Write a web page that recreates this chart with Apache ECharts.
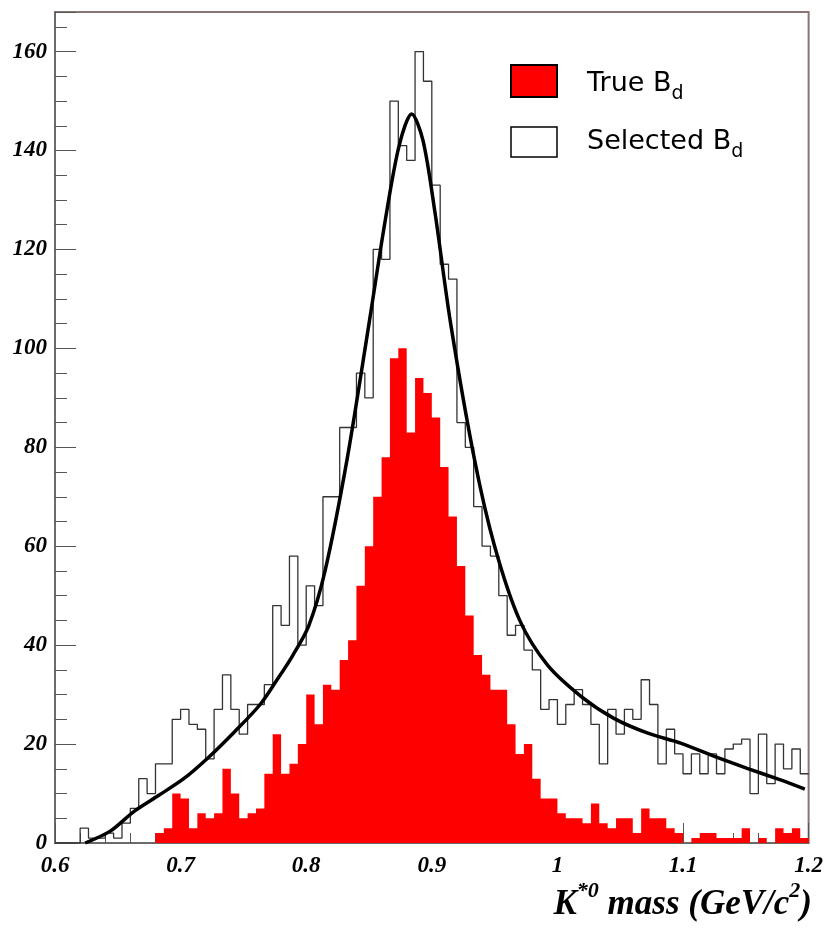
<!DOCTYPE html>
<html>
<head>
<meta charset="utf-8">
<title>K*0 mass</title>
<script src="https://cdn.jsdelivr.net/npm/echarts@6/dist/echarts.min.js"></script>
<style>
  html, body { margin: 0; padding: 0; background: #fff; }
  #main { width: 826px; height: 930px; }
</style>
</head>
<body>
<div id="main"></div>
<script>
// histogram binning
var binLow = 0.6;
var binHigh = 1.2;
var nBins = 90;

// True B_d (filled red)
var trueCounts = [
  0, 0, 0, 0, 0, 0, 0, 0, 0, 0,
  0, 0, 2, 3, 10, 9, 3, 6, 5, 6,
  15, 10, 5, 6, 7, 14, 22, 14, 16, 20,
  30, 24, 32, 31, 37, 41, 52, 60, 70, 78,
  98, 100, 83, 94, 91, 86, 76, 66, 56, 46,
  38, 34, 31, 31, 24, 18, 20, 13, 9, 9,
  6, 5, 5, 4, 8, 4, 3, 5, 5, 2,
  7, 5, 5, 3, 2, 0, 1, 2, 2, 1,
  1, 1, 3, 0, 1, 0, 3, 2, 3, 1
];

// Selected B_d (open outline)
var selectedCounts = [
  0, 0, 0, 3, 1, 1, 2, 1, 4, 7,
  13, 10, 16, 16, 25, 27, 24, 23, 17, 27,
  34, 27, 22, 28, 28, 32, 48, 44, 58, 40,
  52, 48, 70, 70, 84, 84, 95, 90, 120, 118,
  150, 141, 138, 160, 154, 133, 117, 114, 85, 80,
  68, 60, 58, 50, 42, 44, 39, 35, 27, 29,
  24, 28, 31, 28, 24, 16, 27, 22, 27, 25,
  33, 28, 16, 23, 18, 14, 18, 14, 18, 14,
  19, 20, 21, 10, 22, 12, 20, 15, 19, 14
];

// fitted curve
var fitX = [0.624, 0.644, 0.663, 0.683, 0.703, 0.723, 0.743, 0.763, 0.776, 0.789,
  0.802, 0.815, 0.8325, 0.85, 0.863, 0.874, 0.884, 0.893, 0.9025, 0.915,
  0.934, 0.95, 0.97, 0.992, 1.019, 1.045, 1.072, 1.098, 1.125, 1.151,
  1.177, 1.197];
var fitY = [0, 2.4, 6.4, 9.7, 13.1, 17.5, 22.5, 27.9, 32.7, 37.8,
  43.9, 55, 77.5, 105, 126, 141, 147.4, 142, 127.5, 105,
  77.5, 60, 45, 36, 29.6, 25.2, 22.2, 20.2, 17.5, 15.1,
  12.8, 10.9];

var xTicks = ['0.6', '0.7', '0.8', '0.9', '1', '1.1', '1.2'];
var yTicks = ['0', '20', '40', '60', '80', '100', '120', '140', '160'];

function stepData(counts) {
  var w = (binHigh - binLow) / nBins;
  var out = [];
  for (var i = 0; i < counts.length; i++) {
    out.push([binLow + i * w, counts[i]]);
  }
  out.push([binHigh, counts[counts.length - 1]]);
  return out;
}

var fitData = [];
for (var k = 0; k < fitX.length; k++) {
  fitData.push([fitX[k], fitY[k]]);
}

var labelFont = {
  fontFamily: 'Liberation Serif',
  fontStyle: 'italic',
  fontWeight: 'bold',
  fontSize: 23,
  color: '#000'
};

var myChart = echarts.init(document.getElementById('main'));
var option = {
  backgroundColor: '#fff',
  animation: false,
  grid: {
    left: 55,
    right: 14,
    top: 12,
    bottom: 87,
    show: true,
    borderColor: '#8a7575',
    borderWidth: 2,
    backgroundColor: 'transparent'
  },
  xAxis: {
    type: 'value',
    min: 0.6,
    max: 1.2,
    interval: 0.1,
    axisLine: { onZero: false, lineStyle: { color: '#666', width: 1.5 } },
    axisTick: { inside: true, length: 20, lineStyle: { color: '#555' } },
    minorTick: { show: true, splitNumber: 5, length: 10, lineStyle: { color: '#555' } },
    splitLine: { show: false },
    axisLabel: Object.assign({
      margin: 12,
      formatter: function (v) {
        var idx = Math.round((v - 0.6) / 0.1);
        return xTicks[idx] !== undefined ? xTicks[idx] : '';
      }
    }, labelFont)
  },
  yAxis: {
    type: 'value',
    min: 0,
    max: 168,
    interval: 20,
    axisLine: { show: true, lineStyle: { color: '#666', width: 1.5 } },
    axisTick: { inside: true, length: 21, lineStyle: { color: '#555' } },
    minorTick: { show: true, splitNumber: 4, length: 12, lineStyle: { color: '#555' } },
    splitLine: { show: false },
    axisLabel: Object.assign({
      margin: 8,
      showMaxLabel: false,
      formatter: function (v) {
        var idx = Math.round(v / 20);
        return (Math.abs(v - idx * 20) < 1e-6 && yTicks[idx] !== undefined) ? yTicks[idx] : '';
      }
    }, labelFont)
  },
  series: [
    {
      name: 'True Bd',
      type: 'line',
      step: 'end',
      data: stepData(trueCounts),
      symbol: 'none',
      lineStyle: { width: 0, color: '#ff0000' },
      areaStyle: { color: '#ff0000', opacity: 1 },
      z: 3
    },
    {
      name: 'Selected Bd',
      type: 'line',
      step: 'end',
      data: stepData(selectedCounts),
      symbol: 'none',
      lineStyle: { width: 1.3, color: '#333' },
      z: 4
    },
    {
      name: 'Fit',
      type: 'line',
      smooth: 0.3,
      data: fitData,
      symbol: 'none',
      lineStyle: { width: 3.5, color: '#000' },
      z: 5
    }
  ],
  graphic: [
    {
      type: 'rect',
      shape: { x: 511, y: 65, width: 46, height: 32 },
      style: { fill: '#ff0000', stroke: '#000', lineWidth: 2 },
      z: 10
    },
    {
      type: 'rect',
      shape: { x: 511, y: 127, width: 46, height: 30 },
      style: { fill: '#fff', stroke: '#000', lineWidth: 1.5 },
      z: 10
    },
    {
      type: 'text',
      x: 587,
      y: 64,
      style: {
        text: '{a|True B}{s|d}',
        rich: {
          a: { fontFamily: 'DejaVu Sans', fontSize: 27, color: '#000', lineHeight: 40, verticalAlign: 'middle' },
          s: { fontFamily: 'DejaVu Sans', fontSize: 19, color: '#000', lineHeight: 20, verticalAlign: 'bottom' }
        }
      },
      z: 10
    },
    {
      type: 'text',
      x: 587,
      y: 122,
      style: {
        text: '{a|Selected B}{s|d}',
        rich: {
          a: { fontFamily: 'DejaVu Sans', fontSize: 27, color: '#000', lineHeight: 40, verticalAlign: 'middle' },
          s: { fontFamily: 'DejaVu Sans', fontSize: 19, color: '#000', lineHeight: 20, verticalAlign: 'bottom' }
        }
      },
      z: 10
    },
    {
      type: 'text',
      right: 14,
      top: 880,
      style: {
        text: '{m|K}{p|*0}{m| mass (GeV/c}{p|2}{m|)}',
        rich: {
          m: { fontFamily: 'Liberation Serif', fontStyle: 'italic', fontWeight: 'bold', fontSize: 35, color: '#000', lineHeight: 42, verticalAlign: 'bottom' },
          p: { fontFamily: 'Liberation Serif', fontStyle: 'italic', fontWeight: 'bold', fontSize: 22, color: '#000', lineHeight: 22, verticalAlign: 'top' }
        }
      },
      z: 10
    }
  ]
};
myChart.setOption(option);
window.onresize = myChart.resize;
</script>
</body>
</html>
